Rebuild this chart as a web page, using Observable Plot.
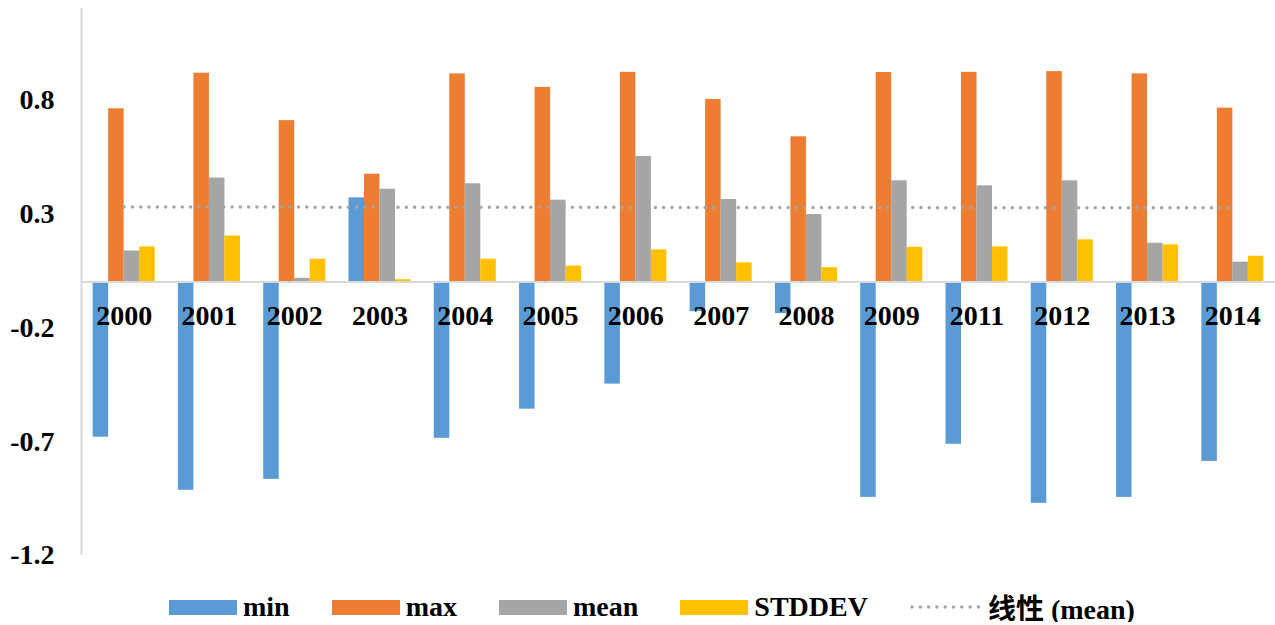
<!DOCTYPE html>
<html>
<head>
<meta charset="utf-8">
<script src="https://cdn.jsdelivr.net/npm/d3@7"></script>
<script src="https://cdn.jsdelivr.net/npm/@observablehq/plot@0.6"></script>
<style>
  body { margin: 0; background: #fff; }
  #legend {
    display: flex; align-items: center; gap: 42px;
    padding-left: 169px; margin-top: 12px; height: 30px;
    font: bold 28px "Liberation Serif", "Times New Roman", "Noto Sans CJK SC", serif;
    color: #000;
  }
  #legend .item { display: flex; align-items: center; gap: 6px; }
  #legend .sw { width: 68px; height: 15px; }
</style>
</head>
<body>
<div id="chart"></div>
<div id="legend"></div>
<script>
// Yearly statistics (no 2010 record)
const years = ["2000", "2001", "2002", "2003", "2004", "2005", "2006", "2007", "2008", "2009", "2011", "2012", "2013", "2014"];
const minVals  = [-0.681, -0.914, -0.866, 0.369, -0.686, -0.558, -0.448, -0.130, -0.139, -0.945, -0.712, -0.971, -0.945, -0.787];
const maxVals  = [0.760, 0.916, 0.708, 0.473, 0.913, 0.854, 0.920, 0.801, 0.637, 0.919, 0.920, 0.923, 0.913, 0.763];
const meanVals = [0.136, 0.456, 0.016, 0.407, 0.431, 0.359, 0.551, 0.362, 0.296, 0.444, 0.422, 0.444, 0.170, 0.087];
const stdVals  = [0.154, 0.202, 0.100, 0.010, 0.100, 0.070, 0.141, 0.084, 0.063, 0.152, 0.154, 0.185, 0.163, 0.113];

const seriesNames  = ["min", "max", "mean", "STDDEV"];
const seriesColors = ["#5b9bd5", "#ed7d31", "#a5a5a5", "#ffc000"];
const trendName = "线性 (mean)";
const yTicks = [-1.2, -0.7, -0.2, 0.3, 0.8];

const seriesValues = [minVals, maxVals, meanVals, stdVals];

// One row per (year, series) bar
const rows = years.flatMap((year, i) =>
  seriesNames.map((series, j) => ({ i, j, year, series, value: seriesValues[j][i] }))
);
const meanRows = years.map((year, i) => ({ i, value: meanVals[i] }));

// Clustered layout: 4 bars per category, gap equal to 1.5 bar widths
const barW = 1 / (seriesNames.length + 1.5);
const groupStart = -barW * seriesNames.length / 2;

const font = '"Liberation Serif", "Times New Roman", serif';
const xDomain = [-0.5, years.length - 0.5];

const chart = Plot.plot({
  width: 1275,
  height: 580,
  marginLeft: 81,
  marginRight: 0,
  marginTop: 8,
  marginBottom: 25,
  style: { fontFamily: font, background: "#fff", color: "#000" },
  x: { domain: xDomain, axis: null },
  y: { domain: [-1.2, 1.2], axis: null },
  color: { domain: seriesNames, range: seriesColors },
  marks: [
    Plot.axisY(yTicks, {
      tickSize: 0, tickPadding: 27, label: null,
      tickFormat: d => d.toFixed(1),
      fontSize: 28, fontWeight: "bold", fill: "#000"
    }),
    Plot.rectY(rows, {
      x1: d => d.i + groupStart + d.j * barW,
      x2: d => d.i + groupStart + (d.j + 1) * barW,
      y: "value",
      fill: "series"
    }),
    Plot.ruleX([xDomain[0]], { stroke: "#d9d9d9", strokeWidth: 2 }),
    Plot.ruleY([0], { stroke: "#d9d9d9", strokeWidth: 2 }),
    Plot.linearRegressionY(meanRows, {
      x: "i", y: "value", ci: 0,
      stroke: "#a5a5a5", strokeWidth: 3.5,
      strokeDasharray: "0,8.3", strokeLinecap: "round"
    }),
    Plot.text(years, {
      x: (d, i) => i, y: () => 0, dy: 34,
      text: d => d,
      fontSize: 28, fontWeight: "bold", fill: "#000"
    })
  ]
});
document.getElementById("chart").append(chart);

// Legend below the chart
const legend = d3.select("#legend");
seriesNames.forEach((name, k) => {
  const item = legend.append("div").attr("class", "item");
  item.append("div").attr("class", "sw").style("background", seriesColors[k]);
  item.append("span").text(name);
});
const trendItem = legend.append("div").attr("class", "item");
const svg = trendItem.append("svg").attr("width", 72).attr("height", 16);
svg.append("line")
  .attr("x1", 2).attr("x2", 70).attr("y1", 8).attr("y2", 8)
  .attr("stroke", "#a5a5a5").attr("stroke-width", 3.5)
  .attr("stroke-dasharray", "0,8.3").attr("stroke-linecap", "round");
trendItem.append("span").text(trendName);
</script>
</body>
</html>
